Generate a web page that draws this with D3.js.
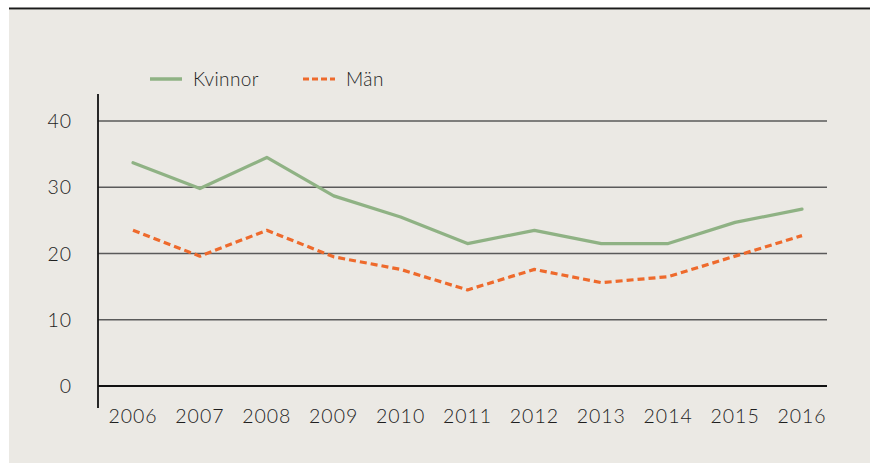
<!DOCTYPE html>
<html>
<head>
<meta charset="utf-8">
<script src="https://cdn.jsdelivr.net/npm/d3@7"></script>
<style>
  html, body { margin: 0; padding: 0; background: #fff; }
  svg { display: block; }
  text { font-family: Lato, "Open Sans", sans-serif; font-weight: 300; fill: #1e1e1e; }
</style>
</head>
<body>
<div id="chart"></div>
<script>
// data
const years = ["2006", "2007", "2008", "2009", "2010", "2011", "2012", "2013", "2014", "2015", "2016"];
const kvinnor = [33.7, 29.8, 34.5, 28.7, 25.5, 21.5, 23.5, 21.5, 21.5, 24.7, 26.7];
const man = [23.5, 19.6, 23.5, 19.5, 17.6, 14.5, 17.6, 15.6, 16.5, 19.6, 22.7];
const yTicks = [0, 10, 20, 30, 40];

const width = 870, height = 464;

const svg = d3.select("#chart").append("svg")
    .attr("width", width)
    .attr("height", height);

// panel + top rule
svg.append("rect")
    .attr("x", 9).attr("y", 8)
    .attr("width", width - 9).attr("height", height - 9)
    .attr("fill", "#ebe9e4");
svg.append("rect")
    .attr("x", 9).attr("y", 7.5)
    .attr("width", width - 9).attr("height", 1.6)
    .attr("fill", "#1a1a1a");
svg.append("rect")
    .attr("x", 9).attr("y", 9.1)
    .attr("width", width - 9).attr("height", 0.9)
    .attr("fill", "#8a8a86");

const x = d3.scalePoint().domain(years).range([133, 802]);
const y = d3.scaleLinear().domain([0, 40]).range([386, 121]);

const axisLeft = 98, axisRight = 827;

// gridlines
svg.append("g")
    .selectAll("line")
    .data(yTicks)
    .enter().append("line")
    .attr("x1", axisLeft).attr("x2", axisRight)
    .attr("y1", d => y(d)).attr("y2", d => y(d))
    .attr("stroke", d => d === 0 ? "#111" : "#5a5a5a")
    .attr("stroke-width", d => d === 0 ? 1.8 : 1.3);

// y axis line
svg.append("line")
    .attr("x1", axisLeft).attr("x2", axisLeft)
    .attr("y1", 94).attr("y2", 408)
    .attr("stroke", "#111")
    .attr("stroke-width", 1.8);

// y labels
svg.append("g")
    .selectAll("text")
    .data(yTicks)
    .enter().append("text")
    .attr("x", 72)
    .attr("y", d => y(d))
    .attr("dy", "0.36em")
    .attr("text-anchor", "end")
    .style("font-size", "19.5px")
    .style("letter-spacing", "1px")
    .text(d => d);

// x labels
svg.append("g")
    .selectAll("text")
    .data(years)
    .enter().append("text")
    .attr("x", d => x(d))
    .attr("y", 423)
    .attr("text-anchor", "middle")
    .style("font-size", "19.5px")
    .style("letter-spacing", "1px")
    .text(d => d);

const line = d3.line()
    .x((d, i) => x(years[i]))
    .y(d => y(d));

svg.append("path")
    .datum(kvinnor)
    .attr("d", line)
    .attr("fill", "none")
    .attr("stroke", "#8fb284")
    .attr("stroke-width", 3.2)
    .attr("stroke-linejoin", "round")
    .attr("stroke-linecap", "round");

svg.append("path")
    .datum(man)
    .attr("d", line)
    .attr("fill", "none")
    .attr("stroke", "#ee6a2c")
    .attr("stroke-width", 3.2)
    .attr("stroke-dasharray", "7,4")
    .attr("stroke-linejoin", "round");

// legend
const legend = svg.append("g");
legend.append("line")
    .attr("x1", 150).attr("x2", 182)
    .attr("y1", 79).attr("y2", 79)
    .attr("stroke", "#8fb284")
    .attr("stroke-width", 3.5);
legend.append("text")
    .attr("x", 193).attr("y", 86)
    .style("font-size", "19px")
    .style("letter-spacing", "0.4px")
    .text("Kvinnor");
legend.append("line")
    .attr("x1", 303).attr("x2", 335)
    .attr("y1", 79).attr("y2", 79)
    .attr("stroke", "#ee6a2c")
    .attr("stroke-width", 3)
    .attr("stroke-dasharray", "6,3");
legend.append("text")
    .attr("x", 346).attr("y", 86)
    .style("font-size", "19px")
    .style("letter-spacing", "0.4px")
    .text("Män");
</script>
</body>
</html>
